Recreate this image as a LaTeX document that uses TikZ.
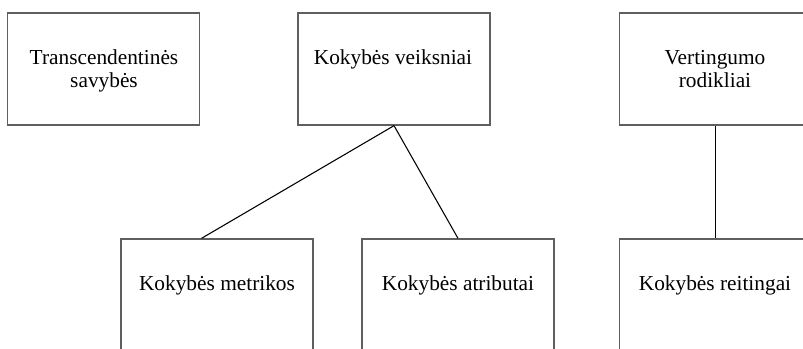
\documentclass[tikz,border=0pt]{standalone}
\usepackage{fontspec}
\setmainfont{Liberation Serif}
\usetikzlibrary{calc}
\definecolor{boxline}{RGB}{95,95,95}
\begin{document}
\begin{tikzpicture}[x=0.75pt,y=-0.75pt,
  box/.style={draw=boxline,line width=1pt,minimum width=144pt,minimum height=84pt,inner sep=0pt},
  caption/.style={anchor=base,align=center,inner sep=0pt,font=\fontsize{16}{17.5}\selectfont},
  link/.style={draw=black,line width=0.8pt}]
  \useasboundingbox (0,0) rectangle (803,349);
  \clip (0,0) rectangle (803,349);
  % upper row
  \node[box] (b1) at (103.5,69) {};
  \node[box] (b2) at (394,69) {};
  \node[box] (b3) at (715.5,69) {};
  % lower row
  \node[box] (b4) at (217,295) {};
  \node[box] (b5) at (458,295) {};
  \node[box] (b6) at (715.5,295) {};
  % captions (base anchor sits on the last line of a two-line caption)
  \node[caption] (t1) at (104,88) {Transcendentinės\\savybės};
  \node[caption] (t2) at (393,65) {Kokybės veiksniai};
  \node[caption] (t3) at (715,88) {Vertingumo\\rodikliai};
  \node[caption] (t4) at (217,290) {Kokybės metrikos};
  \node[caption] (t5) at (458,290) {Kokybės atributai};
  \node[caption] (t6) at (715,290) {Kokybės reitingai};
  % connectors
  \coordinate (m4) at ($(b4.north west)!0.42!(b4.north east)$);
  \draw[link] (b2.south) -- (m4);
  \draw[link] (b2.south) -- (b5.north);
  \draw[link] (b3.south) -- (b6.north);
\end{tikzpicture}
\end{document}
